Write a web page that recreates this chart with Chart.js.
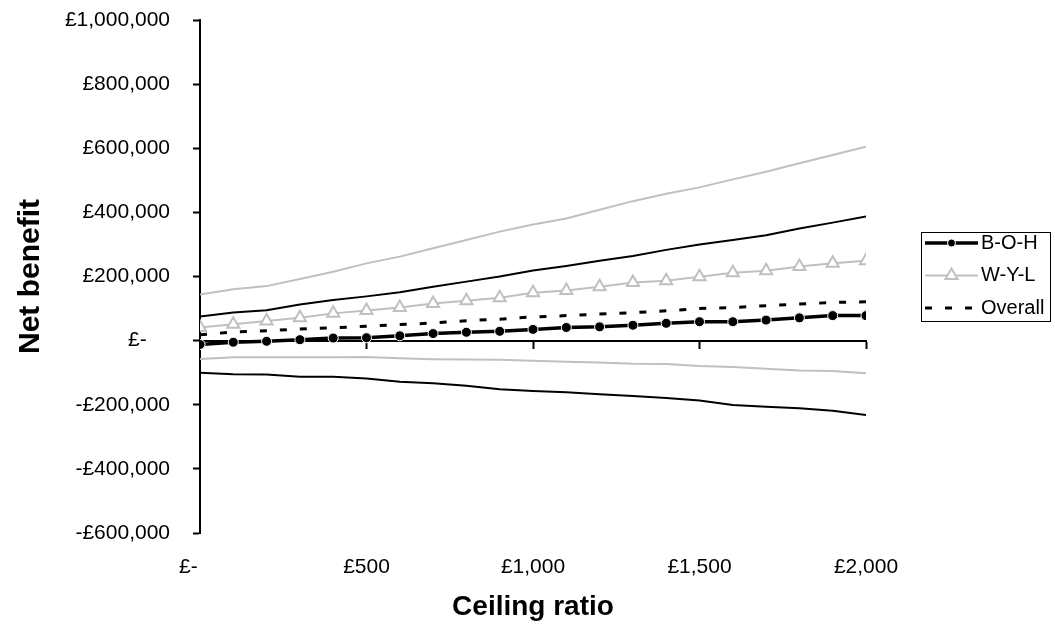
<!DOCTYPE html>
<html>
<head>
<meta charset="utf-8">
<script src="https://cdn.jsdelivr.net/npm/chart.js@4.4.1/dist/chart.umd.min.js"></script>
<style>
  html, body { margin: 0; padding: 0; background: #fff; }
  #wrap { width: 1055px; height: 627px; }
</style>
</head>
<body>
<div id="wrap"><canvas id="c" width="1055" height="627"></canvas></div>
<script>
// Ceiling ratio (£ per unit of effect)
const ceilingRatio = [0, 100, 200, 300, 400, 500, 600, 700, 800, 900, 1000,
                      1100, 1200, 1300, 1400, 1500, 1600, 1700, 1800, 1900, 2000];

// Mean net benefit by region
const bohMean = [-12000, -5000, -2000, 3000, 8000, 9000, 15000, 22000, 26000, 29000, 35000,
                 41000, 43000, 48000, 54000, 59000, 59000, 64000, 71000, 78000, 78000];
const wylMean = [41000, 51000, 61000, 71000, 85000, 94000, 103000, 116000, 124000, 134000, 149000,
                 156000, 168000, 181000, 187000, 199000, 212000, 218000, 231000, 241000, 249000];
const overallMean = [18000, 27000, 31000, 36000, 40000, 45000, 50000, 55000, 62000, 67000, 74000,
                     78000, 83000, 87000, 93000, 100000, 103000, 109000, 114000, 119000, 121000];

// Interval bounds around the regional means
const bohUpper = [75000, 88000, 95000, 113000, 127000, 138000, 151000, 168000, 184000, 200000, 219000,
                  233000, 249000, 264000, 283000, 300000, 314000, 329000, 350000, 368000, 387000];
const bohLower = [-100000, -105000, -106000, -113000, -113000, -118000, -128000, -133000, -141000, -152000, -157000,
                  -161000, -167000, -173000, -179000, -187000, -201000, -206000, -211000, -219000, -232000];
const wylUpper = [144000, 160000, 170000, 192000, 215000, 241000, 262000, 288000, 314000, 340000, 362000,
                  381000, 408000, 435000, 458000, 478000, 503000, 527000, 553000, 579000, 605000];
const wylLower = [-57000, -52000, -52000, -52000, -52000, -51000, -55000, -58000, -59000, -60000, -63000,
                  -66000, -68000, -72000, -73000, -79000, -82000, -88000, -93000, -95000, -102000];

// Axis ranges and tick spacing
const yTicks = { min: -600000, max: 1000000, step: 200000 };
const xTicks = { min: 0, max: 2000, step: 500 };

const FONT = "'Liberation Sans', Arial, sans-serif";
const GREY = '#c0c0c0';

const pts = arr => arr.map((v, i) => ({ x: ceilingRatio[i], y: v }));

// Accounting-style currency labels: zero shows as a dash
function money(v) {
  if (v === 0) return '£-    ';
  const s = String(Math.abs(v)).replace(/\B(?=(\d{3})+(?!\d))/g, ',');
  return (v < 0 ? '-£' : '£') + s;
}

// Axes keep their label overhang inside the layout padding
function noOverhang(s) {
  s.paddingTop = 0; s.paddingBottom = 0; s.paddingLeft = 0; s.paddingRight = 0;
}

// Boxed legend listing the three mean series
const boxLegend = {
  id: 'boxLegend',
  afterDraw(chart) {
    const { ctx, chartArea } = chart;
    const entries = chart.data.datasets
      .filter(d => d.showInLegend)
      .sort((a, b) => a.order - b.order);
    const rowH = 32.5;
    const width = 129, height = 89;
    const left = Math.round(chartArea.right + 55);
    const top = Math.round((chartArea.top + chartArea.bottom) / 2 - height / 2);
    ctx.save();
    ctx.strokeStyle = '#000';
    ctx.lineWidth = 1;
    ctx.setLineDash([]);
    ctx.strokeRect(left + 0.5, top + 0.5, width, height);
    entries.forEach((ds, i) => {
      const y = top + 11 + rowH * i;
      const x0 = left + 4, x1 = left + 57;
      ctx.save();
      ctx.strokeStyle = ds.borderColor;
      ctx.lineWidth = ds.borderWidth;
      ctx.setLineDash(ds.borderDash || []);
      ctx.beginPath();
      ctx.moveTo(x0, y);
      ctx.lineTo(x1, y);
      ctx.stroke();
      ctx.restore();
      if (ds.pointRadius > 0) {
        ctx.save();
        ctx.setLineDash([]);
        ctx.fillStyle = ds.pointBackgroundColor;
        ctx.strokeStyle = ds.pointBorderColor;
        ctx.lineWidth = ds.pointBorderWidth;
        Chart.helpers.drawPoint(ctx, {
          pointStyle: ds.pointStyle,
          radius: ds.legendPointRadius || ds.pointRadius,
          borderWidth: ds.pointBorderWidth,
          rotation: 0
        }, (x0 + x1) / 2, y);
        ctx.restore();
      }
      ctx.fillStyle = '#000';
      ctx.font = '20px ' + FONT;
      ctx.textAlign = 'left';
      ctx.textBaseline = 'middle';
      ctx.fillText(ds.label, left + 60, y);
    });
    ctx.restore();
  }
};

const bandLine = (label, data, color, width) => ({
  label, data: pts(data), showInLegend: false, order: 4,
  borderColor: color, borderWidth: width, pointRadius: 0, pointHoverRadius: 0,
  fill: false, tension: 0
});

new Chart(document.getElementById('c'), {
  type: 'line',
  data: {
    datasets: [
      bandLine('B-O-H upper', bohUpper, '#000', 2),
      bandLine('B-O-H lower', bohLower, '#000', 2),
      bandLine('W-Y-L upper', wylUpper, GREY, 2),
      bandLine('W-Y-L lower', wylLower, GREY, 2),
      {
        label: 'Overall', data: pts(overallMean), showInLegend: true, order: 3,
        borderColor: '#000', borderWidth: 3, borderDash: [7, 13], borderCapStyle: 'butt',
        pointRadius: 0, pointHoverRadius: 0, tension: 0, fill: false
      },
      {
        label: 'W-Y-L', data: pts(wylMean), showInLegend: true, order: 2,
        borderColor: GREY, borderWidth: 2,
        pointStyle: 'triangle', pointRadius: 7, legendPointRadius: 7,
        pointBackgroundColor: '#fff', pointBorderColor: GREY, pointBorderWidth: 2,
        tension: 0, fill: false
      },
      {
        label: 'B-O-H', data: pts(bohMean), showInLegend: true, order: 1,
        borderColor: '#000', borderWidth: 3.5,
        pointStyle: 'circle', pointRadius: 5, legendPointRadius: 4,
        pointBackgroundColor: '#000', pointBorderColor: '#fff', pointBorderWidth: 1,
        tension: 0, fill: false
      }
    ]
  },
  options: {
    responsive: false,
    animation: false,
    devicePixelRatio: 1,
    layout: { padding: { top: 20, right: 189, bottom: 0, left: 0 } },
    plugins: { legend: { display: false }, tooltip: { enabled: false } },
    scales: {
      x: {
        type: 'linear', position: 'bottom',
        min: xTicks.min, max: xTicks.max,
        grid: { display: false, drawTicks: false },
        border: { display: false },
        ticks: {
          stepSize: xTicks.step, padding: 22, maxRotation: 0,
          color: '#000', font: { family: FONT, size: 21 },
          callback: v => money(v)
        },
        title: {
          display: true, text: 'Ceiling ratio', color: '#000',
          font: { family: FONT, size: 28, weight: 'bold' },
          padding: { top: 0, bottom: 3 }
        },
        afterFit: s => { noOverhang(s); s.height = 94; }
      },
      xZero: {
        type: 'linear', position: { y: 0 },
        min: xTicks.min, max: xTicks.max,
        grid: { drawOnChartArea: false, drawTicks: true, tickLength: 7, tickWidth: 2, tickColor: '#000' },
        border: { display: true, color: '#000', width: 2 },
        ticks: { display: false, stepSize: xTicks.step },
        afterFit: s => { noOverhang(s); }
      },
      y: {
        type: 'linear', position: 'left',
        min: yTicks.min, max: yTicks.max,
        grid: { drawOnChartArea: false, drawTicks: true, tickLength: 7, tickWidth: 2, tickColor: '#000' },
        border: { display: true, color: '#000', width: 2 },
        ticks: {
          stepSize: yTicks.step, padding: 23,
          color: '#000', font: { family: FONT, size: 21 },
          callback: v => money(v)
        },
        title: {
          display: true, text: 'Net benefit', color: '#000',
          font: { family: FONT, size: 30, weight: 'bold' },
          padding: { top: 13, bottom: 0 }
        },
        afterFit: s => { noOverhang(s); s.width = 200; }
      }
    }
  },
  plugins: [boxLegend]
});
</script>
</body>
</html>
